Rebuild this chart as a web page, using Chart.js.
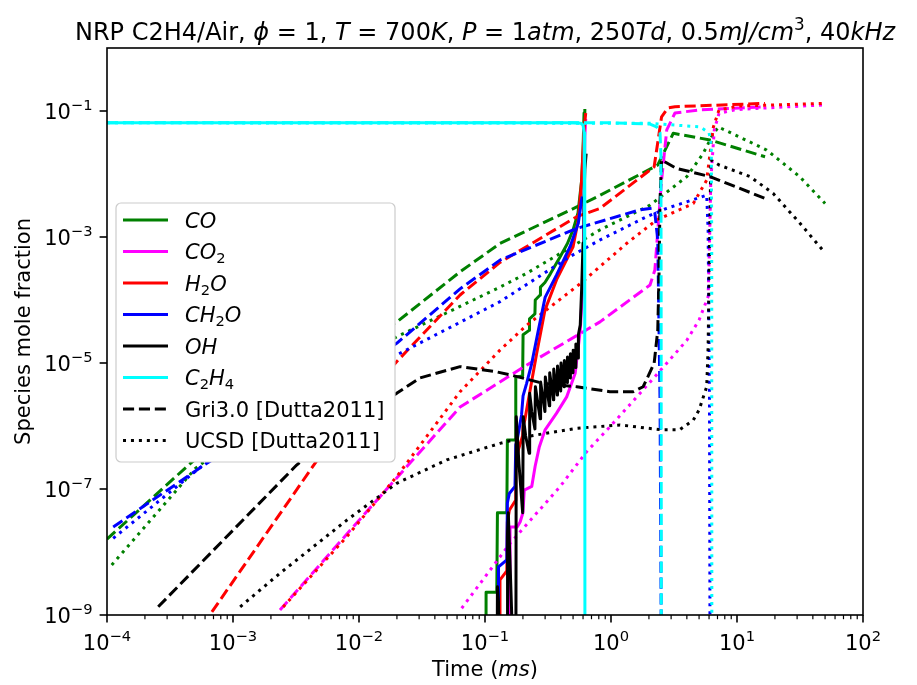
<!DOCTYPE html>
<html><head><meta charset="utf-8">
<script src="https://cdn.jsdelivr.net/npm/chart.js@4.4.1/dist/chart.umd.min.js"></script>
<style>html,body{margin:0;padding:0;background:#fff;}canvas{display:block;}</style>
</head><body>
<canvas id="c" width="917" height="685"></canvas>
<script>
// ---------- DATA (time in ms, mole fraction) ----------
const species = ['CO','CO2','H2O','CH2O','OH','C2H4'];
const speciesColors = ['#008000','#ff00ff','#ff0000','#0000ff','#000000','#00ffff'];

// this work (solid)
const CO_this = [[0.1015,1e-12],[0.102,2.3e-9],[0.124,2.3e-9],[0.1255,4.2e-8],[0.149,4.2e-8],[0.1505,6e-7],[0.174,6e-7],[0.1755,6e-6],[0.199,6.2e-6],[0.2005,2.8e-5],[0.224,3.3e-5],[0.2255,5e-5],[0.249,6e-5],[0.2505,1e-4],[0.274,1.2e-4],[0.2755,1.6e-4],[0.299,1.9e-4],[0.33,2.6e-4],[0.394,4.8e-4],[0.45,7.8e-4],[0.5,1.3e-3],[0.547,2.4e-3],[0.585,8e-3],[0.6,2.5e-2],[0.611,0.093],[0.62,0.108]];
const CO2_this = [[0.1575,1e-12],[0.158,2.5e-8],[0.18,2.5e-8],[0.19,3e-8],[0.2,4.2e-8],[0.205,9.6e-8],[0.235,1.1e-7],[0.25,2.3e-7],[0.27,4.7e-7],[0.3,8.7e-7],[0.37,1.6e-6],[0.445,2.9e-6],[0.52,6.9e-6],[0.57,3.3e-5],[0.6,2.1e-4],[0.61,3e-3],[0.62,0.04],[0.63,0.075]];
const H2O_this = [[0.13,1e-12],[0.1315,3.6e-9],[0.149,5e-9],[0.1505,3e-8],[0.156,4.6e-8],[0.174,6.5e-8],[0.1755,2.5e-7],[0.184,4.2e-7],[0.199,7e-7],[0.2005,1e-6],[0.207,1.24e-6],[0.228,3.7e-6],[0.257,1.42e-5],[0.299,6.9e-5],[0.37,2.1e-4],[0.5,7e-4],[0.55,1.86e-3],[0.585,8e-3],[0.611,0.05],[0.63,0.093]];
const CH2O_this = [[0.127,1e-12],[0.128,5.8e-9],[0.149,7.5e-9],[0.1505,6e-8],[0.156,8.5e-8],[0.173,1.1e-7],[0.1755,5e-7],[0.18,6e-7],[0.195,1.5e-6],[0.2005,3e-6],[0.214,4.75e-6],[0.235,9.9e-6],[0.265,3.3e-5],[0.3,1.1e-4],[0.37,2.5e-4],[0.473,7e-4],[0.55,1.65e-3],[0.585,3.9e-3],[0.592,4.4e-3]];
const OH_this = [[0.124,1e-12],[0.1255,2.8e-9],[0.128,1.6e-9],[0.133,1e-12],[0.1495,1e-12],[0.151,2e-8],[0.153,4.2e-8],[0.157,1e-8],[0.163,1e-9],[0.167,1e-12],[0.1752,1e-12],[0.177,1.4e-6],[0.186,2.5e-7],[0.199,4.2e-8],[0.2012,1.4e-6],[0.21,7e-7],[0.224,3.7e-7],[0.2262,3.3e-6],[0.235,1.7e-6],[0.249,9e-7],[0.2512,4.2e-6],[0.274,1.3e-6],[0.2762,5e-6],[0.299,1.7e-6],[0.3012,6e-6],[0.324,2.1e-6],[0.3262,7e-6],[0.349,2.6e-6],[0.3512,8e-6],[0.374,3.1e-6],[0.3762,9e-6],[0.399,3.6e-6],[0.4012,1e-5],[0.424,4.2e-6],[0.4262,1.1e-5],[0.449,4.9e-6],[0.4512,1.25e-5],[0.474,5.8e-6],[0.4762,1.4e-5],[0.499,7e-6],[0.5012,1.6e-5],[0.524,8.5e-6],[0.5262,2e-5],[0.549,1.2e-5],[0.5512,2.8e-5],[0.57,4e-5],[0.585,1.5e-4],[0.6,8e-4],[0.61,4e-3],[0.62,0.012],[0.635,0.021]];
const C2H4_this = [[1e-4,0.065],[0.5,0.065],[0.575,0.064],[0.6,0.06],[0.612,0.045],[0.618,0.01],[0.62,1e-4],[0.622,1e-12]];

// Gri3.0 [Dutta2011] (dashed)
const CO_gri = [[1e-4,1.6e-8],[4.6e-4,2.56e-7],[1e-3,8.9e-7],[3e-3,4.1e-6],[1e-2,1.97e-5],[0.02,4.5e-5],[0.0634,2.8e-4],[0.1315,7.9e-4],[0.535,3e-3],[0.82,4.6e-3],[2.35,0.0139],[3.12,0.0443],[6.1,0.0347],[16.7,0.0188]];
const CO2_gri = [[2.36e-3,1.2e-9],[0.0122,5e-8],[0.0634,2e-6],[0.215,9.3e-6],[0.818,4.5e-5],[2.04,1.73e-4],[2.23,3e-4],[2.52,8e-3],[2.77,0.05],[3.22,0.093],[5.08,0.104],[16.7,0.117]];
const H2O_gri = [[6.8e-4,1.12e-9],[4.56e-3,2.7e-7],[1e-2,2.2e-6],[0.0199,1.05e-5],[0.0634,1.2e-4],[0.1315,3.95e-4],[0.535,2.1e-3],[0.82,2.85e-3],[2.2,0.013],[2.52,0.081],[2.83,0.112],[3.22,0.117],[16.7,0.132]];
const CH2O_gri = [[1.12e-4,2.5e-8],[6.2e-4,2.56e-7],[2e-3,1.1e-6],[6e-3,4.2e-6],[0.0199,2.05e-5],[0.0634,1.5e-4],[0.1315,4.3e-4],[0.535,1.37e-3],[1.7,2.7e-3],[2.1,2.85e-3],[2.23,2.4e-3],[2.35,9e-4],[2.45,2.6e-6],[2.5,1.2e-9],[2.51,1e-12]];
const OH_gri = [[2.55e-4,1.35e-9],[3.2e-3,2.4e-7],[8e-3,1.14e-6],[0.0199,3.3e-6],[0.0305,5.8e-6],[0.0634,8.75e-6],[0.117,7.4e-6],[0.158,6.5e-6],[0.29,4.75e-6],[0.535,4.2e-6],[0.98,3.5e-6],[1.5,3.5e-6],[1.8,4.2e-6],[2.2,9.9e-6],[2.35,3.3e-5],[2.4,2.07e-4],[2.45,3.9e-3],[2.52,0.0167],[3.3,0.0123],[6.1,9.1e-3],[16.7,4.1e-3]];
const C2H4_gri = [[1e-4,0.065],[1.0,0.065],[2.04,0.062],[2.3,0.056],[2.45,0.045],[2.49,0.02],[2.5,1e-4],[2.51,1e-12]];

// UCSD [Dutta2011] (dotted)
const CO_ucsd = [[1.09e-4,6.2e-9],[5e-4,2.1e-7],[2e-3,1.68e-6],[6e-3,7e-6],[0.0199,2.6e-5],[0.1315,1.6e-4],[0.214,2.65e-4],[0.82,1.3e-3],[2.04,3.2e-3],[4.0,9.1e-3],[5.4,0.0213],[6.3,0.039],[7.1,0.056],[17.2,0.024],[31.6,9e-3],[50,3.4e-3]];
const CO2_ucsd = [[0.0653,1.28e-9],[0.158,1.37e-8],[0.394,1.09e-7],[0.64,3.9e-7],[0.98,9.7e-7],[1.7,3.3e-6],[2.77,9.9e-6],[4.0,2.3e-5],[5.0,4.8e-5],[5.9,1.13e-4],[6.0,3.8e-4],[6.2,8e-3],[6.6,0.05],[7.2,0.092],[9.5,0.104],[14.3,0.11],[50,0.125]];
const H2O_ucsd = [[2.5e-3,1.34e-9],[8e-3,1.75e-8],[0.0199,1.57e-7],[0.0634,3.5e-6],[0.1315,1.6e-5],[0.215,4e-5],[0.575,1.84e-4],[1.33,7.9e-4],[2.3,1.86e-3],[4.5,3.4e-3],[5.75,8e-3],[6.3,0.0347],[6.5,0.056],[7.2,0.104],[10.6,0.12],[50,0.132]];
const CH2O_ucsd = [[1.12e-4,1.65e-8],[5.8e-4,2.4e-7],[2e-3,1.27e-6],[6e-3,4.5e-6],[0.0199,1.34e-5],[0.1315,9.4e-5],[0.473,4.9e-4],[0.82,9e-4],[1.92,2.1e-3],[2.77,2.85e-3],[5.75,4.6e-3],[5.9,1.3e-3],[6.05,2.6e-6],[6.1,1e-9],[6.11,1e-12]];
const OH_ucsd = [[1.14e-3,1.35e-9],[2.36e-3,4.6e-9],[8e-3,3.2e-8],[0.0199,1.23e-7],[0.0497,2.9e-7],[0.1315,5.3e-7],[0.214,6.8e-7],[0.535,9.2e-7],[1.18,1.04e-6],[2.5,8.7e-7],[3.5,8.7e-7],[4.5,1.24e-6],[5.0,1.8e-6],[5.75,4.2e-6],[5.9,1.8e-5],[6.0,2.07e-4],[6.2,0.0167],[7.2,0.0139],[12.7,9.1e-3],[19.4,4.9e-3],[31.6,1.65e-3],[50,5.6e-4]];
const C2H4_ucsd = [[1e-4,0.065],[2.0,0.064],[5.08,0.056],[6.0,0.045],[6.25,0.03],[6.3,1e-3],[6.32,1e-12]];

// tick labels
const xTickValues = [1e-4,1e-3,1e-2,1e-1,1e0,1e1,1e2];
const xTickExps = ['\u22124','\u22123','\u22122','\u22121','0','1','2'];
const xMinorMultipliers = [2,3,4,5,6,7,8,9];
const yTickValues = [1e-9,1e-7,1e-5,1e-3,1e-1];
const yTickExps = ['\u22129','\u22127','\u22125','\u22123','\u22121'];

// texts
const titleSegs = [
  {t:'NRP C2H4/Air, '},{t:'\u03d5',it:1},{t:' = 1, '},{t:'T',it:1},{t:' = 700'},{t:'K',it:1},{t:', '},
  {t:'P',it:1},{t:' = 1'},{t:'atm',it:1},{t:', 250'},{t:'Td',it:1},{t:', 0.5'},{t:'mJ/cm',it:1},{t:'3',sup:1},
  {t:', 40'},{t:'kHz',it:1}
];
const xLabelSegs = [{t:'Time ('},{t:'ms',it:1},{t:')'}];
const yLabelText = 'Species mole fraction';
const legendLabels = [
  [{t:'CO',it:1}],
  [{t:'CO',it:1},{t:'2',sub:1}],
  [{t:'H',it:1},{t:'2',sub:1},{t:'O',it:1}],
  [{t:'CH',it:1},{t:'2',sub:1},{t:'O',it:1}],
  [{t:'OH',it:1}],
  [{t:'C',it:1},{t:'2',sub:1},{t:'H',it:1},{t:'4',sub:1}],
  [{t:'Gri3.0 [Dutta2011]'}],
  [{t:'UCSD [Dutta2011]'}]
];

// ---------- BUILD ----------
const thisSeries = [CO_this,CO2_this,H2O_this,CH2O_this,OH_this,C2H4_this];
const griSeries = [CO_gri,CO2_gri,H2O_gri,CH2O_gri,OH_gri,C2H4_gri];
const ucsdSeries = [CO_ucsd,CO2_ucsd,H2O_ucsd,CH2O_ucsd,OH_ucsd,C2H4_ucsd];
const LW = 3;
const DASH = [11.1, 4.8];
const DOT = [3, 4.95];

const datasets = [];
species.forEach((s,i)=>{
  const col = speciesColors[i];
  [[thisSeries[i],[]],[griSeries[i],DASH],[ucsdSeries[i],DOT]].forEach(([arr,dash])=>{
    datasets.push({
      label: s, data: arr.map(p=>({x:p[0],y:p[1]})),
      borderColor: col, borderWidth: LW, borderDash: dash, borderCapStyle:'butt',
      borderJoinStyle:'round', pointRadius:0, tension:0, fill:false, clip:0
    });
  });
});
datasets.forEach((d,i)=>{ d.order = -i; });

const FONT = '"DejaVu Sans", sans-serif';
function fnt(g,size){ const s=(g.sub||g.sup)?size*0.7:size; return (g.it?'italic ':'')+s.toFixed(2)+'px '+FONT; }
function segW(ctx,segs,size){ let w=0; for(const g of segs){ ctx.font=fnt(g,size); w+=ctx.measureText(g.t).width; } return w; }
function drawSegs(ctx,segs,x,y,size,align){
  const w=segW(ctx,segs,size);
  let cx = align==='center'? x-w/2 : align==='right'? x-w : x;
  ctx.textAlign='left'; ctx.textBaseline='alphabetic';
  for(const g of segs){ ctx.font=fnt(g,size); const dy = g.sub? size*0.2 : g.sup? -size*0.42 : 0; ctx.fillText(g.t,cx,y+dy); cx+=ctx.measureText(g.t).width; }
}
function seg(ctx,x1,y1,x2,y2){ ctx.beginPath(); ctx.moveTo(x1,y1); ctx.lineTo(x2,y2); ctx.stroke(); }

const decor = {
  id:'decor',
  afterDraw(chart){
    const {ctx, chartArea:a, scales:{x,y}} = chart;
    ctx.save();
    ctx.fillStyle='#000'; ctx.strokeStyle='#000';
    xTickValues.forEach((v,i)=>{
      const px = x.getPixelForValue(v);
      ctx.lineWidth=1.6; seg(ctx,px,a.bottom,px,a.bottom+7.4);
      drawSegs(ctx,[{t:'10'},{t:xTickExps[i],sup:1}],px,650,21,'center');
      if (i<xTickValues.length-1){
        ctx.lineWidth=1.2;
        xMinorMultipliers.forEach(m=>{ const q=x.getPixelForValue(m*v); seg(ctx,q,a.bottom,q,a.bottom+4.2); });
      }
    });
    yTickValues.forEach((v,i)=>{
      const py = y.getPixelForValue(v);
      ctx.lineWidth=1.6; seg(ctx,a.left-7.4,py,a.left,py);
      drawSegs(ctx,[{t:'10'},{t:yTickExps[i],sup:1}],a.left-14.5,py+7.5,21,'right');
    });
    ctx.lineWidth=1.6;
    ctx.strokeRect(a.left,a.top,a.right-a.left,a.bottom-a.top);
    drawSegs(ctx,titleSegs,(a.left+a.right)/2,40,24,'center');
    drawSegs(ctx,xLabelSegs,(a.left+a.right)/2,676,21,'center');
    ctx.save(); ctx.translate(30,(a.top+a.bottom)/2); ctx.rotate(-Math.PI/2);
    drawSegs(ctx,[{t:yLabelText}],0,0,21,'center'); ctx.restore();
    // legend
    const L=116, T=203, R=395, B=462, r=5;
    ctx.beginPath();
    ctx.moveTo(L+r,T); ctx.lineTo(R-r,T); ctx.arcTo(R,T,R,T+r,r); ctx.lineTo(R,B-r); ctx.arcTo(R,B,R-r,B,r);
    ctx.lineTo(L+r,B); ctx.arcTo(L,B,L,B-r,r); ctx.lineTo(L,T+r); ctx.arcTo(L,T,L+r,T,r); ctx.closePath();
    ctx.fillStyle='#ffffff'; ctx.fill();
    ctx.strokeStyle='#cccccc'; ctx.lineWidth=1.2; ctx.stroke();
    legendLabels.forEach((lab,i)=>{
      const ry = 220 + i*31.5;
      ctx.strokeStyle = i<6 ? speciesColors[i] : '#000';
      ctx.lineWidth = LW; ctx.lineCap='butt';
      ctx.setLineDash(i<6?[]:(i===6?DASH:DOT));
      seg(ctx,123,ry,168,ry);
      ctx.setLineDash([]);
      ctx.fillStyle='#000';
      drawSegs(ctx,lab,185,ry+7.5,21,'left');
    });
    ctx.restore();
  }
};

new Chart(document.getElementById('c'),{
  type:'line',
  data:{datasets},
  options:{
    responsive:false, animation:false, devicePixelRatio:1,
    layout:{padding:{left:0,right:54,top:48,bottom:0}},
    plugins:{legend:{display:false},title:{display:false},tooltip:{enabled:false}},
    scales:{
      x:{type:'logarithmic',min:1e-4,max:100,grid:{display:false},border:{display:false},ticks:{display:false},
         afterFit(s){s.height=70;}},
      y:{type:'logarithmic',min:1e-9,max:1,grid:{display:false},border:{display:false},ticks:{display:false},
         afterFit(s){s.width=107;}}
    }
  },
  plugins:[decor]
});
</script>
</body></html>
